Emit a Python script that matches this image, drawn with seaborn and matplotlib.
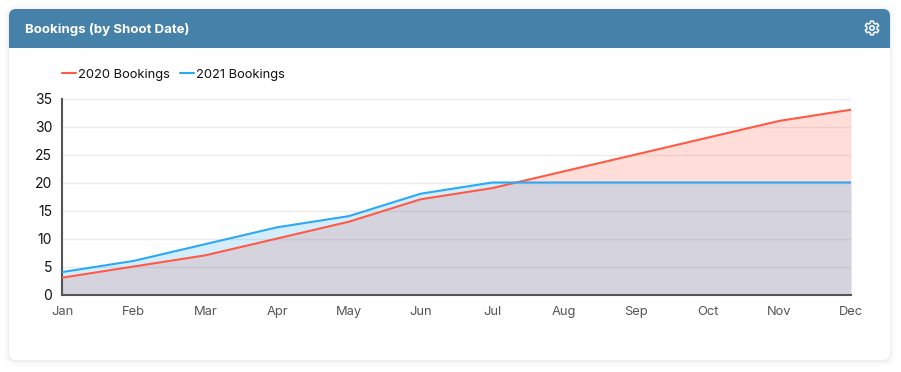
import numpy as np
import pandas as pd
import seaborn as sns
import matplotlib.pyplot as plt
from matplotlib.patches import FancyBboxPatch, Rectangle, Polygon, Circle

months = ['Jan', 'Feb', 'Mar', 'Apr', 'May', 'Jun', 'Jul', 'Aug', 'Sep', 'Oct', 'Nov', 'Dec']
bookings_2020 = [3, 5, 7, 10, 13, 17, 19, 22, 25, 28, 31, 33]
bookings_2021 = [4, 6, 9, 12, 14, 18, 20, 20, 20, 20, 20, 20]
y_ticks = [0, 5, 10, 15, 20, 25, 30, 35]

RED = '#ff5a45'
BLUE = '#2ca8f4'
W, H = 901, 372

sns.set_theme(style='white')
plt.rcParams['font.family'] = ['Inter', 'DejaVu Sans']

fig = plt.figure(figsize=(W / 100, H / 100), dpi=100, facecolor='white')

# card, header and gear live on a pixel-sized background axes
bg = fig.add_axes([0, 0, 1, 1])
bg.set_xlim(0, W)
bg.set_ylim(H, 0)
bg.axis('off')

for grow, alpha in [(6, 0.008), (4, 0.012), (2, 0.018), (1, 0.025)]:
    bg.add_patch(FancyBboxPatch((9 - grow, 9 - grow + 1), 881 + 2 * grow, 351 + 2 * grow,
                                boxstyle=f'round,pad=0,rounding_size={7 + grow}',
                                fc='black', ec='none', alpha=alpha))
card = FancyBboxPatch((9, 9), 881, 351, boxstyle='round,pad=0,rounding_size=7', fc='white', ec='none')
bg.add_patch(card)
header = Rectangle((9, 9), 881, 39, fc='#4581a9', ec='none')
bg.add_patch(header)
header.set_clip_path(card)
bg.text(25, 29.5, 'Bookings (by Shoot Date)', color='white', fontsize=9.55, fontweight='bold',
        va='center', ha='left')

# settings icon
cx, cy = 872, 28
angles = np.deg2rad(np.arange(0, 360, 60) + 30)
gear = []
for a in angles:
    for off, r in [(-0.36, 5.2), (-0.2, 7.0), (0.2, 7.0), (0.36, 5.2)]:
        gear.append((cx + r * np.cos(a + off), cy + r * np.sin(a + off)))
bg.add_patch(Polygon(gear, closed=True, fc='none', ec='white', lw=1.1))
bg.add_patch(Circle((cx, cy), 2.2, fc='none', ec='white', lw=1.1))

# plot area: Jan at x=62, Dec at x=851, 35 at y=98.5, 0 at y=294.5
ax = fig.add_axes([62 / W, 1 - 294.5 / H, (851 - 62) / W, (294.5 - 98.5) / H])
ax.patch.set_alpha(0)

df = pd.DataFrame({
    'month': months * 2,
    'bookings': bookings_2020 + bookings_2021,
    'series': ['2020 Bookings'] * 12 + ['2021 Bookings'] * 12,
})
df['pos'] = df['month'].map({m: i for i, m in enumerate(months)})

pos = np.arange(len(months))
ax.fill_between(pos, bookings_2020, color=RED, alpha=0.2, lw=0, zorder=2)
ax.fill_between(pos, bookings_2021, color=BLUE, alpha=0.2, lw=0, zorder=2.1)
sns.lineplot(data=df, x='pos', y='bookings', hue='series', palette=[RED, BLUE],
             lw=1.5, ax=ax, zorder=3, errorbar=None)

ax.set_xlim(0, 11)
ax.set_ylim(0, 35)
ax.set_xticks(pos, months)
ax.set_yticks(y_ticks)
ax.set_xlabel('')
ax.set_ylabel('')
ax.grid(axis='y', color='#ebebeb', lw=1, zorder=1)
ax.set_axisbelow(True)
ax.tick_params(axis='x', length=0, pad=8, labelsize=9.3, labelcolor='#555555')
ax.tick_params(axis='y', length=0, pad=7, labelsize=10, labelcolor='#111111')
sns.despine(ax=ax)
for side in ['left', 'bottom']:
    ax.spines[side].set_color('#555555')
    ax.spines[side].set_linewidth(1.5)

handles, labels = ax.get_legend_handles_labels()
ax.legend(handles, labels, loc='center left', bbox_to_anchor=(62, 75), bbox_transform=bg.transData,
          ncol=2, frameon=False, fontsize=9.3, handlelength=1.1, handletextpad=0.15,
          columnspacing=0.75, borderaxespad=0, borderpad=0, labelcolor='#111111')

fig.savefig('out.png', dpi=100, facecolor='white')
